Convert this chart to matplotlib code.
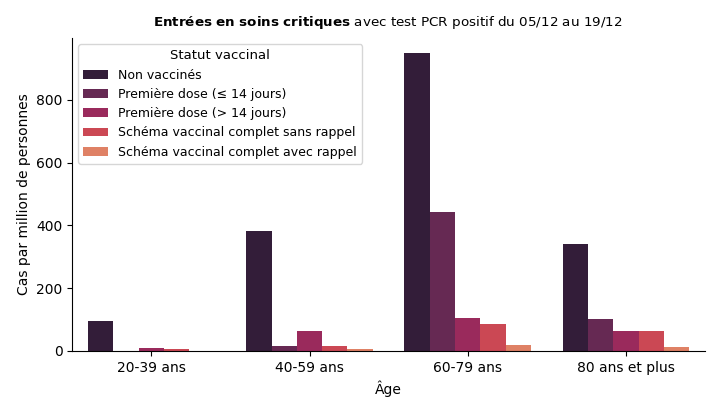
import matplotlib
matplotlib.use("Agg")
import matplotlib.pyplot as plt
import seaborn as sns
import pandas as pd

ages = ["20-39 ans", "40-59 ans", "60-79 ans", "80 ans et plus"]
statuts = ["Non vaccinés", "Première dose (≤ 14 jours)", "Première dose (> 14 jours)",
           "Schéma vaccinal complet sans rappel", "Schéma vaccinal complet avec rappel"]
non_vaccines = [96, 382, 950, 341]
premiere_dose_moins14 = [0, 17, 442, 101]
premiere_dose_plus14 = [10, 65, 104, 65]
complet_sans_rappel = [6, 17, 87, 62]
complet_avec_rappel = [1, 7, 19, 13]

series = [non_vaccines, premiere_dose_moins14, premiere_dose_plus14,
          complet_sans_rappel, complet_avec_rappel]
rows = []
for s, vals in zip(statuts, series):
    for a, v in zip(ages, vals):
        rows.append({"Âge": a, "Statut vaccinal": s, "val": v})
df = pd.DataFrame(rows)

palette = sns.color_palette("rocket", 6)[:5]

fig = plt.figure(figsize=(7.15, 4.09), dpi=100)
ax = fig.add_axes([0.101, 0.142, 0.885, 0.765])
sns.barplot(data=df, x="Âge", y="val", hue="Statut vaccinal", palette=palette,
            saturation=0.75, ax=ax, errorbar=None)
sns.despine(ax=ax)
ax.set_ylabel("Cas par million de personnes")
ax.set_xlabel("Âge")
ax.legend(title="Statut vaccinal", loc="upper left", fontsize=9, title_fontsize=9.5)
fig.text(0.542, 0.944, r"$\bf{Entrées\ en\ soins\ critiques}$ avec test PCR positif du 05/12 au 19/12",
         ha="center", va="center", fontsize=9.7)
fig.savefig("out.png", dpi=100)
